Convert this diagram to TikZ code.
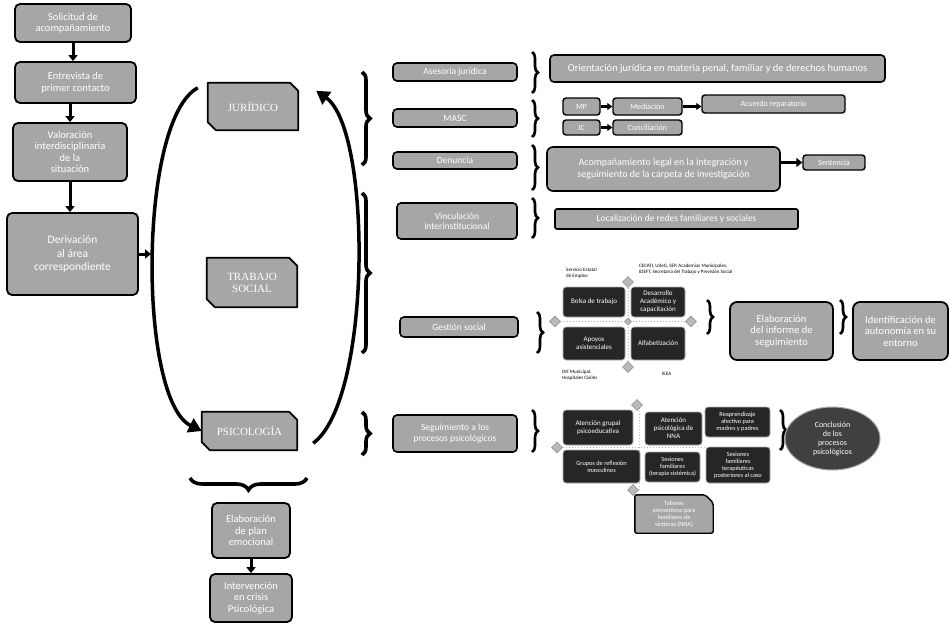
\documentclass[tikz,border=0pt]{standalone}
\usepackage{fontspec}
\setmainfont{Carlito}
\newfontfamily\capsfont{Liberation Serif}
\usetikzlibrary{arrows.meta,shapes.geometric,decorations.pathreplacing,calc,backgrounds}
\tikzset{
  gbox/.style={draw=black,line width=1.8pt,rounded corners=5pt,fill=gray!70,text=white,align=center,inner sep=0pt,font=\fontsize{10.5}{11.5}\selectfont},
  lbox/.style={gbox,rounded corners=4pt,line width=1.6pt,font=\fontsize{9.5}{10.5}\selectfont},
  sbox/.style={gbox,rounded corners=3pt,line width=1.4pt,font=\fontsize{8}{9}\selectfont},
  areatext/.style={text=white,align=center,inner sep=0pt,font=\capsfont\fontsize{11}{12}\selectfont},
  areadraw/.style={draw=black,line width=1.8pt,fill=gray!70,line join=round},
  tile/.style={draw=gray!60,line width=0.8pt,rounded corners=3pt,fill=black!85,text=white,align=center,inner sep=0pt,font=\fontsize{7}{8}\selectfont},
  tile2/.style={tile,font=\fontsize{6.3}{7}\selectfont},
  small/.style={align=left,inner sep=0pt,font=\fontsize{5}{5.6}\selectfont},
  dmd/.style={diamond,fill=gray!55,draw=gray!80,line width=0.6pt,minimum size=11pt,inner sep=0pt},
  ell/.style={ellipse,draw=gray!70,line width=1pt,fill=black!75,text=white,align=center,inner sep=0pt,font=\fontsize{8}{9}\selectfont},
  arr/.style={line width=3pt,-{Triangle[length=6pt,width=9pt]}},
  sarr/.style={line width=2.2pt,-{Triangle[length=5pt,width=7pt]}},
  curv/.style={line width=3.5pt,-{Triangle[length=13pt,width=15pt]}},
  brc/.style={decorate,decoration={brace,amplitude=6pt},line width=2.6pt},
  bigbrc/.style={decorate,decoration={brace,amplitude=8pt},line width=3.6pt},
  dots/.style={gray!60,line width=1pt,dotted}
}
% \bx{style}{name}{x1}{y1}{x2}{y2}{text}
\newcommand\bx[7]{%
  \pgfmathsetmacro\bxw{#5-#3}\pgfmathsetmacro\bxh{#6-#4}%
  \pgfmathsetmacro\bxx{(#3+#5)/2}\pgfmathsetmacro\bxy{(#4+#6)/2}%
  \node[#1,minimum width=\bxw pt,minimum height=\bxh pt] (#2) at (\bxx,\bxy) {#7};}
% chamfered outline (top right and bottom left) behind a node
\newcommand\snipshape[2]{%
  \begin{scope}[on background layer]
  \path[areadraw] (#1.north west) -- ([xshift=-#2]#1.north east) -- ([yshift=-#2]#1.north east) -- (#1.south east) -- ([xshift=#2]#1.south west) -- ([yshift=#2]#1.south west) -- cycle;
  \end{scope}}
\begin{document}
\begin{tikzpicture}[x=1pt,y=-1pt]
\begin{scope}[on background layer]
\path[use as bounding box,fill=white] (0,0) rectangle (950,624);
\end{scope}

% left column
\bx{gbox}{b1}{15}{4}{131}{42}{Solicitud de\\acompañamiento}
\bx{gbox}{b2}{15}{62}{136}{103}{Entrevista de\\primer contacto}
\bx{gbox}{b3}{13}{123}{127}{181}{Valoración\\interdisciplinaria\\de la\\situación}
\bx{gbox,font=\fontsize{11.5}{13.5}\selectfont}{b4}{7}{213}{138}{295}{Derivación\\al área\\correspondiente}
\draw[arr] (b1.south) -- (b1.south |- b2.north);
\draw[arr] (b2.south -| b3.north) -- (b3.north);
\draw[arr] (b3.south) -- (b3.south |- b4.north);

% areas
\bx{areatext}{jur}{208}{83}{298}{130}{JURÍDICO}
\bx{areatext}{ts}{207}{258}{297}{307}{TRABAJO\\SOCIAL}
\bx{areatext}{psi}{202}{412}{297}{450}{PSICOLOGÍA}
\snipshape{jur}{8pt}
\snipshape{ts}{8pt}
\snipshape{psi}{8pt}

\draw[curv] ([xshift=-10pt,yshift=-5pt]jur.north west) .. controls (138,120) and (138,400) .. (psi.west);
\draw[curv] ([xshift=16pt,yshift=7pt]psi.south east) .. controls (372,400) and (372,130) .. ([xshift=18pt,yshift=-8pt]jur.north east);
\coordinate (arcL) at (151,254);
\draw[arr] (b4.east) -- (b4.east -| arcL);

% main braces
\draw[bigbrc] (362,72) -- (362,165);
\draw[bigbrc] (362,193) -- (362,353);
\draw[bigbrc] (362,412) -- (362,455);

% right labels
\bx{lbox}{r1}{393}{63}{517}{81}{Asesoría jurídica}
\bx{lbox}{r2}{393}{109}{517}{127}{MASC}
\bx{lbox}{r3}{393}{152}{517}{169}{Denuncia}
\bx{lbox}{r4}{397}{203}{517}{239}{Vinculación\\interinstitucional}
\bx{lbox}{r5}{400}{317}{518}{337}{Gestión social}
\bx{lbox}{r6}{393}{415}{517}{452}{Seguimiento a los\\procesos psicológicos}

\draw[brc] (532,52) -- (532,93);
\draw[brc] (532,100) -- (532,137);
\draw[brc] (532,145) -- (532,190);
\draw[brc] (532,198) -- (532,238);
\draw[brc] (537,312) -- (537,353);
\draw[brc] (532,410) -- (532,452);

% row 1
\bx{lbox,font=\fontsize{10.5}{11.5}\selectfont}{l1}{550}{55}{885}{82}{Orientación jurídica en materia penal, familiar y de derechos humanos}
% row 2
\bx{sbox}{ma}{563}{98}{600}{115}{MP}
\bx{sbox}{mb}{613}{98}{682}{115}{Mediación}
\bx{sbox}{mc}{702}{95}{845}{113}{Acuerdo reparatorio}
\bx{sbox}{md}{563}{120}{600}{135}{JC}
\bx{sbox}{me}{613}{120}{682}{135}{Conciliación}
\draw[sarr] (ma) -- (mb);
\draw[sarr] (mb.east) -- (mb.east -| mc.west);
\draw[sarr] (md) -- (me);
% row 3
\bx{lbox,rounded corners=6pt,font=\fontsize{10}{12}\selectfont}{l3}{547}{147}{780}{191}{Acompañamiento legal en la integración y\\seguimiento de la carpeta de investigación}
\bx{sbox}{sent}{803}{155}{865}{170}{Sentencia}
\draw[arr] (sent.west -| l3.east) -- (sent.west);
% row 4
\bx{lbox,rounded corners=2pt}{l4}{555}{209}{798}{229}{Localización de redes familiares y sociales}

% row 5 grid
\draw[dots] (628,282) -- (628,367);
\draw[dots] (555,321.5) -- (691,321.5);
\bx{tile}{g11}{563}{287}{625}{317}{Bolsa de trabajo}
\bx{tile}{g12}{631}{287}{685}{317}{Desarrollo\\Académico y\\capacitación}
\bx{tile}{g21}{563}{327}{625}{360}{Apoyos\\asistenciales}
\bx{tile}{g22}{631}{327}{685}{360}{Alfabetización}
\node[dmd] (gd1) at (628,282) {};
\node[dmd] (gd2) at (555,321.5) {};
\node[dmd] (gd3) at (691,321.5) {};
\node[dmd] (gd4) at (628,367) {};
\node[dmd,minimum size=7pt] (gd5) at (628,321.5) {};
\node[small,anchor=north west] (t1) at (566,268) {Servicio Estatal\\de Empleo};
\node[small,anchor=north west] (t2) at (639,264) {CECATI, UdeG, SEP, Academias Municipales,\\IDEFT, Secretaría del Trabajo y Previsión Social};
\node[small,anchor=north west] (t3) at (562,370) {DIF Municipal,\\Hospitales Civiles};
\node[small,anchor=north west] (t4) at (662,372) {IEEA};
\draw[brc] (707,300) -- (707,334);
\bx{gbox,rounded corners=7pt}{s5a}{730}{302}{833}{360}{Elaboración\\del informe de\\seguimiento}
\draw[brc] (840,300) -- (840,334);
\bx{gbox,rounded corners=7pt}{s5b}{853}{302}{948}{360}{Identificación de\\autonomía en su\\entorno}

% row 6 grid
\draw[dots] (639,405) -- (639,490);
\draw[dots] (557,447.5) -- (705,447.5);
\bx{tile}{p11}{563}{410}{633}{445}{Atención grupal\\psicoeducativa}
\bx{tile}{p12}{645}{412}{702}{445}{Atención\\psicológica de\\NNA}
\bx{tile2}{p13}{705}{407}{770}{437}{Reaprendizaje\\afectivo para\\madres y padres}
\bx{tile2}{p21}{563}{450}{640}{483}{Grupos de reflexión\\masculinos}
\bx{tile2}{p22}{645}{452}{700}{482}{Sesiones\\familiares\\(terapia sistémica)}
\bx{tile2}{p23}{706}{447}{770}{483}{Sesiones\\familiares\\terapéuticas\\posteriores al caso}
\node[dmd] (pd1) at (637,405) {};
\node[dmd] (pd2) at (557,447.5) {};
\node[dmd] (pd3) at (633,490) {};
\bx{areatext,font=\fontsize{6.3}{7}\selectfont}{p31}{635}{495}{713}{533}{Talleres\\preventivos para\\familiares de\\víctimas (NNA)}
\begin{scope}[on background layer]
\path[areadraw,line width=1.4pt,rounded corners=2pt] (p31.north west) -- ([xshift=-8pt]p31.north east) -- ([yshift=-8pt]p31.north east) -- (p31.south east) -- (p31.south west) -- cycle;
\end{scope}
\draw[brc] (780,410) -- (780,450);
\bx{ell}{con}{785}{407}{880}{470}{Conclusión\\de los\\procesos\\psicológicos}

% bottom
\draw[bigbrc,decoration={brace,amplitude=12pt}] (307,478) -- (190,478);
\bx{gbox}{bt1}{212}{503}{290}{558}{Elaboración\\de plan\\emocional}
\bx{gbox}{bt2}{210}{574}{292}{622}{Intervención\\en crisis\\Psicológica}
\draw[arr] (bt1.south) -- (bt1.south |- bt2.north);
\end{tikzpicture}
\end{document}
